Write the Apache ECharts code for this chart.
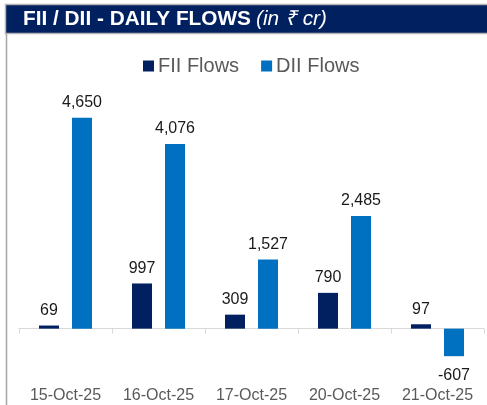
<!DOCTYPE html>
<html>
<head>
<meta charset="utf-8">
<script src="https://cdn.jsdelivr.net/npm/echarts@6/dist/echarts.min.js"></script>
<style>
  html, body { margin: 0; padding: 0; background: #fff; }
  #flows { width: 487px; height: 405px; }
</style>
</head>
<body>
<div id="flows"></div>
<script>
var dom = document.getElementById("flows");
var myChart = echarts.init(dom);

// daily flows, in rupee crore
const days = ['15-Oct-25', '16-Oct-25', '17-Oct-25', '20-Oct-25', '21-Oct-25'];
const fiiFlows = [69, 997, 309, 790, 97];
const diiFlows = [4650, 4076, 1527, 2485, -607];

const font = 'Liberation Sans, Arial, sans-serif';

// negative bars get the label underneath
function withLabels(vals) {
  return vals.map(function (v) {
    return {
      value: v,
      label: { position: v < 0 ? 'bottom' : 'top', distance: v < 0 ? 11 : 7 }
    };
  });
}

var option = {
  animation: false,
  textStyle: { fontFamily: font },
  title: {
    text: '{b|FII / DII - DAILY FLOWS} {i|(in ₹ cr)}',
    left: 23,
    top: 9,
    padding: 0,
    textStyle: {
      fontWeight: 'normal',
      rich: {
        b: { fontFamily: font, fontSize: 20.8, fontWeight: 'bold', color: '#fff' },
        i: { fontFamily: font, fontSize: 20.8, fontWeight: 'normal', fontStyle: 'italic', color: '#fff' }
      }
    },
    z: 10
  },
  graphic: [
    {
      type: 'rect',
      shape: { x: 5.5, y: 4.5, width: 490, height: 29 },
      style: { fill: '#002060', stroke: '#b4b4b4', lineWidth: 1.5 },
      z: 0
    },
    {
      type: 'line',
      shape: { x1: 6.5, y1: 34, x2: 6.5, y2: 410 },
      style: { stroke: '#a6a6a6', lineWidth: 1.5 }
    }
  ],
  legend: {
    left: 143,
    top: 56,
    padding: 0,
    itemWidth: 11,
    itemHeight: 11,
    itemGap: 22,
    icon: 'rect',
    textStyle: { fontFamily: font, fontSize: 20, color: '#595959', padding: [0, 0, 0, -1] }
  },
  grid: { left: 19, right: 3, top: 102, bottom: 31 },
  xAxis: [
    {
      type: 'category',
      data: days,
      position: 'bottom',
      axisLine: { onZero: true, lineStyle: { color: '#d9d9d9', width: 1 } },
      axisTick: { show: true, length: 5, lineStyle: { color: '#d9d9d9' } },
      axisLabel: { show: false }
    },
    {
      type: 'category',
      data: days,
      position: 'bottom',
      axisLine: { show: false, onZero: false },
      axisTick: { show: false },
      axisLabel: { fontFamily: font, fontSize: 16, color: '#595959', margin: 14 }
    }
  ],
  yAxis: {
    type: 'value',
    min: -1000,
    max: 5000,
    show: false,
    splitLine: { show: false }
  },
  series: [
    {
      name: 'FII Flows',
      type: 'bar',
      xAxisIndex: 0,
      barWidth: 20,
      barGap: '65%',
      itemStyle: { color: '#002060' },
      label: {
        show: true,
        fontFamily: font,
        fontSize: 16,
        color: '#1a1a1a',
        formatter: function (p) { return p.value.toLocaleString('en-US'); }
      },
      data: withLabels(fiiFlows)
    },
    {
      name: 'DII Flows',
      type: 'bar',
      xAxisIndex: 0,
      barWidth: 20,
      barGap: '65%',
      itemStyle: { color: '#0070c0' },
      label: {
        show: true,
        fontFamily: font,
        fontSize: 16,
        color: '#1a1a1a',
        formatter: function (p) { return p.value.toLocaleString('en-US'); }
      },
      data: withLabels(diiFlows)
    }
  ]
};

if (option && typeof option === "object") {
  myChart.setOption(option, true);
}
</script>
</body>
</html>
